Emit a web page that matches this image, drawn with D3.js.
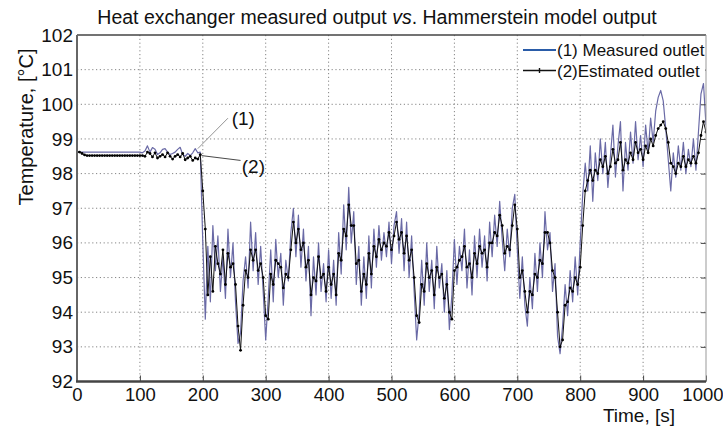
<!DOCTYPE html>
<html>
<head>
<meta charset="utf-8">
<script src="https://cdn.jsdelivr.net/npm/d3@7"></script>
<style>
  body { margin: 0; background: #fff; }
  svg { display: block; font-family: "Liberation Sans", Arial, sans-serif; }
</style>
</head>
<body>
<svg id="chart" width="723" height="427"></svg>
<script>
// sample step of both records, seconds
const sampleStep = 4;

// (1) measured outlet temperature, one value every 4 s from t = 0
const measured = [
  98.62, 98.62, 98.62, 98.62, 98.62, 98.62, 98.62, 98.62, 98.62, 98.62, // 0
  98.62, 98.62, 98.62, 98.62, 98.62, 98.62, 98.62, 98.62, 98.62, 98.62, // 40
  98.62, 98.62, 98.62, 98.62, 98.62, 98.62, 98.6, 98.65, 98.8, 98.62,   // 80
  98.75, 98.7, 98.55, 98.6, 98.7, 98.72, 98.62, 98.55, 98.58, 98.62,    // 120
  98.7, 98.76, 98.55, 98.5, 98.58, 98.52, 98.6, 98.72, 98.6, 98.62,     // 160
  96.0, 93.8, 95.9, 94.3, 96.5, 95.2, 96.2, 94.6, 95.6, 94.4,           // 200
  96.4, 95.0, 96.0, 94.3, 93.1, 93.4, 94.9, 95.6, 94.7, 96.6,           // 240
  95.2, 96.3, 94.8, 95.9, 94.6, 93.2, 94.4, 95.8, 94.3, 96.1,           // 280
  95.0, 95.7, 94.2, 95.5, 94.9, 96.3, 97.0, 95.6, 96.8, 95.3,           // 320
  96.4, 94.9, 95.9, 93.9, 95.6, 94.5, 96.0, 94.6, 95.4, 94.3,           // 360
  95.8, 94.4, 95.5, 94.2, 96.3, 95.1, 97.1, 95.8, 97.6, 96.0,           // 400
  96.9, 94.8, 95.9, 94.2, 95.6, 94.4, 96.2, 94.7, 96.4, 95.3,           // 440
  96.5, 95.5, 96.3, 95.6, 96.6, 95.4, 96.5, 96.9, 95.7, 96.7,           // 480
  95.2, 96.6, 95.0, 96.2, 94.6, 93.2, 94.0, 95.5, 94.2, 96.0,           // 520
  94.6, 95.5, 94.1, 95.9, 94.7, 95.4, 94.0, 95.2, 93.5, 94.5,           // 560
  96.1, 94.8, 95.9, 95.2, 96.4, 94.7, 95.8, 94.5, 96.2, 95.0,           // 600
  96.4, 95.3, 96.2, 94.9, 96.6, 95.6, 96.8, 95.9, 97.2, 96.1,           // 640
  95.2, 96.4, 95.6, 97.0, 97.4, 95.8, 94.4, 95.6, 94.2, 93.6,           // 680
  95.0, 94.1, 95.7, 94.6, 96.0, 95.0, 96.9, 95.8, 96.3, 94.6,           // 720
  95.4, 93.3, 92.8, 93.6, 94.8, 93.9, 95.2, 94.3, 95.6, 94.5,           // 760
  96.0, 97.4, 98.3, 97.5, 98.8, 97.2, 98.6, 97.8, 99.0, 98.0,           // 800
  98.9, 97.6, 98.5, 99.4, 97.9, 98.8, 99.5, 97.5, 98.9, 98.1,           // 840
  99.2, 98.3, 99.5, 98.4, 99.1, 98.2, 99.4, 98.6, 99.6, 98.9,           // 880
  99.8, 100.2, 100.4, 100.1, 99.3, 98.4, 97.5, 98.6, 97.9, 98.8,        // 920
  98.1, 98.9, 98.0, 98.7, 98.2, 99.0, 98.1, 99.2, 100.3, 100.6,         // 960
  99.4                                                                  // 1000
];

// (2) Hammerstein model estimate, same sample times
const estimated = [
  98.62, 98.62, 98.58, 98.54, 98.52, 98.52, 98.52, 98.52, 98.52, 98.52, // 0
  98.52, 98.52, 98.52, 98.52, 98.52, 98.52, 98.52, 98.52, 98.52, 98.52, // 40
  98.52, 98.52, 98.52, 98.52, 98.52, 98.52, 98.52, 98.5, 98.62, 98.58,  // 80
  98.48, 98.6, 98.45, 98.5, 98.55, 98.48, 98.6, 98.5, 98.42, 98.5,      // 120
  98.55, 98.48, 98.58, 98.4, 98.45, 98.5, 98.38, 98.45, 98.42, 98.55,   // 160
  97.5, 96.4, 94.5, 95.6, 94.6, 95.9, 95.4, 95.1, 95.8, 94.8,           // 200
  95.7, 95.3, 95.4, 94.8, 93.6, 92.9, 94.2, 95.2, 95.0, 95.8,           // 240
  95.5, 95.8, 95.2, 95.4, 95.0, 93.9, 93.8, 95.1, 94.8, 95.5,           // 280
  95.4, 95.3, 94.7, 95.1, 95.0, 95.8, 96.6, 96.0, 96.4, 95.8,           // 320
  96.0, 95.3, 95.5, 94.5, 95.0, 94.9, 95.6, 95.0, 95.1, 94.6,           // 360
  95.3, 94.8, 95.1, 94.5, 95.7, 95.5, 96.4, 96.2, 97.1, 96.5,           // 400
  96.5, 95.4, 95.5, 94.6, 95.1, 94.8, 95.7, 95.1, 95.9, 95.6,           // 440
  96.1, 95.8, 96.0, 95.9, 96.3, 95.8, 96.2, 96.6, 96.1, 96.3,           // 480
  95.7, 96.2, 95.5, 95.8, 95.0, 93.9, 93.7, 94.8, 94.6, 95.4,           // 520
  95.0, 95.2, 94.5, 95.3, 95.0, 95.1, 94.4, 94.8, 94.0, 93.8,           // 560
  95.2, 95.3, 95.5, 95.6, 95.9, 95.3, 95.4, 95.0, 95.7, 95.4,           // 600
  95.9, 95.7, 95.8, 95.3, 96.0, 96.0, 96.3, 96.2, 96.8, 96.5,           // 640
  95.7, 95.9, 95.8, 96.5, 97.1, 96.4, 95.0, 95.2, 94.6, 94.0,           // 680
  94.6, 94.5, 95.1, 95.0, 95.5, 95.4, 96.3, 96.3, 96.0, 95.2,           // 720
  95.0, 94.0, 93.0, 93.2, 94.2, 94.3, 94.7, 94.6, 95.0, 94.8,           // 760
  95.3, 96.5, 97.5, 97.8, 98.1, 97.8, 98.1, 98.0, 98.4, 98.2,           // 800
  98.5, 98.0, 98.2, 98.7, 98.3, 98.4, 98.9, 98.1, 98.4, 98.3,           // 840
  98.6, 98.4, 98.9, 98.6, 98.7, 98.4, 98.8, 98.6, 99.0, 98.8,           // 880
  99.1, 99.3, 99.4, 99.5, 99.3, 98.9, 98.3, 98.2, 98.0, 98.3,           // 920
  98.2, 98.5, 98.2, 98.4, 98.3, 98.5, 98.3, 98.6, 99.1, 99.5,           // 960
  99.2                                                                  // 1000
];

const xTicks = [0, 100, 200, 300, 400, 500, 600, 700, 800, 900, 1000];
const yTicks = [92, 93, 94, 95, 96, 97, 98, 99, 100, 101, 102];
const seriesNames = ["(1) Measured outlet", "(2)Estimated outlet"];

const svg = d3.select("#chart");
const fontFamily = '"Liberation Sans", Arial, sans-serif';

const plot = { left: 77, right: 706, top: 35, bottom: 381.5 };

const x = d3.scaleLinear().domain([0, 1000]).range([plot.left, plot.right]);
const y = d3.scaleLinear().domain([92, 102]).range([plot.bottom, plot.top]);

const measuredData = measured.map((v, i) => ({ t: i * sampleStep, v: v }));
const estimatedData = estimated.map((v, i) => ({ t: i * sampleStep, v: v }));

svg.append("defs").append("clipPath").attr("id", "clip")
    .append("rect")
    .attr("x", plot.left).attr("y", plot.top)
    .attr("width", plot.right - plot.left).attr("height", plot.bottom - plot.top);

/* dotted grid */
const grid = svg.append("g");
grid.selectAll(".vgrid")
    .data(xTicks.slice(1, -1))
    .enter().append("line")
    .attr("x1", d => x(d)).attr("x2", d => x(d))
    .attr("y1", plot.top).attr("y2", plot.bottom)
    .attr("stroke", "#777").attr("stroke-width", 0.9)
    .attr("stroke-dasharray", "1.2,2.6");
grid.selectAll(".hgrid")
    .data(yTicks.slice(1, -1))
    .enter().append("line")
    .attr("x1", plot.left).attr("x2", plot.right)
    .attr("y1", d => y(d)).attr("y2", d => y(d))
    .attr("stroke", "#777").attr("stroke-width", 0.9)
    .attr("stroke-dasharray", "1.2,2.6");

/* series */
const line = d3.line().x(d => x(d.t)).y(d => y(d.v));
const data = svg.append("g").attr("clip-path", "url(#clip)");

data.append("path")
    .datum(measuredData)
    .attr("fill", "none")
    .attr("stroke", "#6a6aa6")
    .attr("stroke-width", 1.2)
    .attr("stroke-linejoin", "round")
    .attr("d", line);

data.append("path")
    .datum(estimatedData)
    .attr("fill", "none")
    .attr("stroke", "#111")
    .attr("stroke-width", 1)
    .attr("d", line);

data.selectAll(".mark")
    .data(estimatedData)
    .enter().append("circle")
    .attr("cx", d => x(d.t))
    .attr("cy", d => y(d.v))
    .attr("r", 1.4)
    .attr("fill", "#000");

/* axes */
const xAxis = svg.append("g")
    .attr("transform", `translate(0,${plot.bottom})`)
    .call(d3.axisBottom(x).tickValues(xTicks).tickFormat(d3.format("d"))
        .tickSizeInner(-6).tickSizeOuter(0).tickPadding(6));
xAxis.select(".domain").remove();
xAxis.selectAll("line").attr("stroke", "#444").attr("stroke-width", 1);
xAxis.selectAll("text").style("font-size", "18.5px").style("font-family", fontFamily).attr("fill", "#111");
// last label sits against the right edge of the picture
xAxis.selectAll("text").filter(d => d === 1000).attr("text-anchor", "end").attr("x", 723 - plot.right);

const yAxis = svg.append("g")
    .attr("transform", `translate(${plot.left},0)`)
    .call(d3.axisLeft(y).tickValues(yTicks).tickSizeInner(0).tickSizeOuter(0).tickPadding(4));
yAxis.select(".domain").remove();
yAxis.selectAll("text").style("font-size", "19px").style("font-family", fontFamily).attr("fill", "#111");

const rAxis = svg.append("g")
    .attr("transform", `translate(${plot.right},0)`)
    .call(d3.axisRight(y).tickValues(yTicks.slice(1, -1)).tickSizeInner(-5).tickSizeOuter(0).tickFormat(""));
rAxis.select(".domain").remove();
rAxis.selectAll("line").attr("stroke", "#444");

/* frame */
svg.append("line").attr("x1", plot.left).attr("x2", plot.right)
    .attr("y1", plot.top).attr("y2", plot.top)
    .attr("stroke", "#444").attr("stroke-width", 1.4);
svg.append("line").attr("x1", plot.right).attr("x2", plot.right)
    .attr("y1", plot.top).attr("y2", plot.bottom)
    .attr("stroke", "#999").attr("stroke-width", 1);
svg.append("line").attr("x1", plot.left).attr("x2", plot.left)
    .attr("y1", plot.top).attr("y2", plot.bottom)
    .attr("stroke", "#666").attr("stroke-width", 2);
svg.append("line").attr("x1", plot.left - 1).attr("x2", plot.right)
    .attr("y1", plot.bottom).attr("y2", plot.bottom)
    .attr("stroke", "#444").attr("stroke-width", 2.5);

/* legend */
const legend = svg.append("g");
legend.append("rect")
    .attr("x", 519).attr("y", plot.top + 1.5)
    .attr("width", plot.right - 520).attr("height", 45)
    .attr("fill", "#fff");
const legendRows = [50, 70.5];
legend.append("line").attr("x1", 523).attr("x2", 556)
    .attr("y1", legendRows[0]).attr("y2", legendRows[0])
    .attr("stroke", "#2a5ca8").attr("stroke-width", 2);
legend.append("line").attr("x1", 523).attr("x2", 556)
    .attr("y1", legendRows[1]).attr("y2", legendRows[1])
    .attr("stroke", "#111").attr("stroke-width", 1.5);
legend.append("line").attr("x1", 539.5).attr("x2", 539.5)
    .attr("y1", legendRows[1] - 2.5).attr("y2", legendRows[1] + 2.5)
    .attr("stroke", "#111").attr("stroke-width", 1.4);
legend.selectAll(".ltext")
    .data(seriesNames)
    .enter().append("text")
    .attr("x", 557)
    .attr("y", (d, i) => legendRows[i] + 6)
    .style("font-size", "17px")
    .attr("fill", "#111")
    .text(d => d);

/* (1) (2) callouts near the step */
svg.append("line")
    .attr("x1", x(192)).attr("y1", y(98.72))
    .attr("x2", x(240)).attr("y2", y(99.6))
    .attr("stroke", "#888").attr("stroke-width", 0.9);
svg.append("line")
    .attr("x1", x(198)).attr("y1", y(98.52))
    .attr("x2", x(260)).attr("y2", y(98.38))
    .attr("stroke", "#333").attr("stroke-width", 0.9);
svg.append("text").attr("x", x(246)).attr("y", y(99.58) + 6)
    .style("font-size", "19px").attr("fill", "#111").text("(1)");
svg.append("text").attr("x", x(262)).attr("y", y(98.18) + 6)
    .style("font-size", "19px").attr("fill", "#111").text("(2)");

/* titles */
const title = svg.append("text")
    .attr("x", 377).attr("y", 24)
    .attr("text-anchor", "middle")
    .style("font-size", "19.5px")
    .attr("fill", "#111");
title.append("tspan").text("Heat exchanger measured output ");
title.append("tspan").style("font-style", "italic").text("vs");
title.append("tspan").text(". Hammerstein model output");

svg.append("text")
    .attr("transform", "translate(33,127) rotate(-90)")
    .attr("text-anchor", "middle")
    .style("font-size", "20px")
    .attr("fill", "#111")
    .text("Temperature, [°C]");

svg.append("text")
    .attr("x", 639).attr("y", 422)
    .attr("text-anchor", "middle")
    .style("font-size", "19px")
    .attr("fill", "#111")
    .text("Time, [s]");
</script>
</body>
</html>
